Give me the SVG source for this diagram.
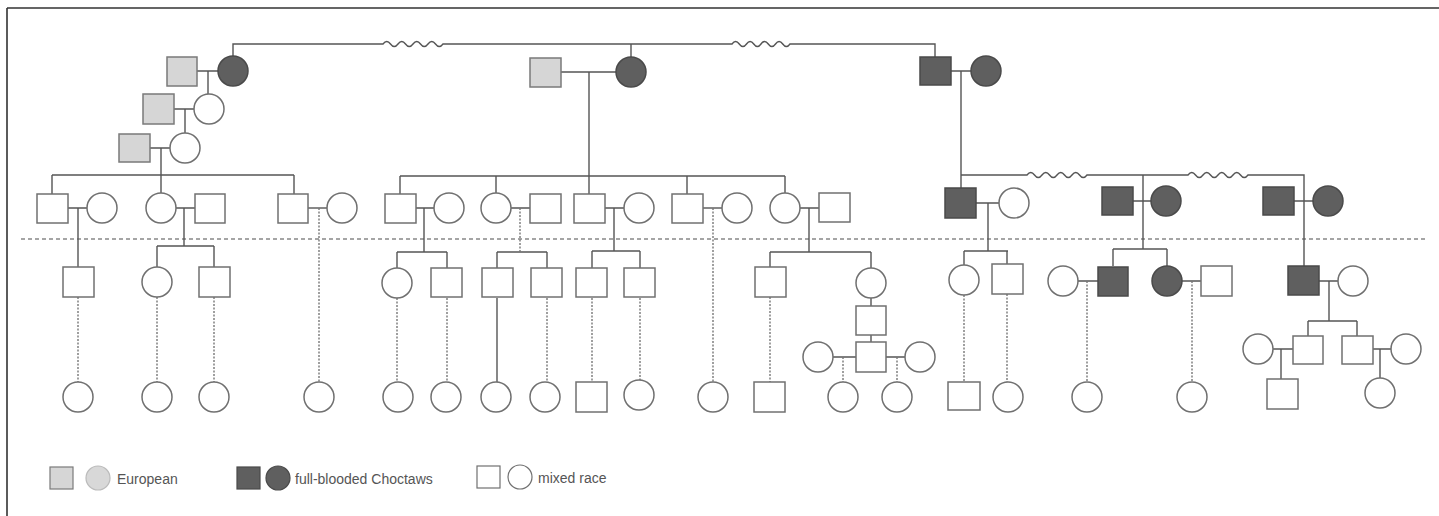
<svg xmlns="http://www.w3.org/2000/svg" width="1439" height="516" viewBox="0 0 1439 516">
<defs>
<style>
.m{fill:#fff;stroke:#707070;stroke-width:1.5}
.e{fill:#d6d6d6;stroke:#7a7a7a;stroke-width:1.5}
.c{fill:#5f5f5f;stroke:#4a4a4a;stroke-width:1.5}
.ln{fill:none;stroke:#555;stroke-width:1.4}
.dt{fill:none;stroke:#777;stroke-width:1.4;stroke-dasharray:2 1.5}
.sep{fill:none;stroke:#888;stroke-width:1.3;stroke-dasharray:4 3}
.lg{font-family:"Liberation Sans",Arial,sans-serif;font-size:14px;fill:#555}
</style>
</defs>
<rect x="0" y="0" width="1439" height="516" fill="#fff"/>
<path d="M7,8 H1439 M7,8 V516" fill="none" stroke="#333" stroke-width="1.6"/>
<path class="sep" d="M21,239 H1425"/>

<g id="connectors">
<!-- generation 1 -->
<path class="ln" d="M233,56 V44 H383 q3.75,-5 7.5,0 t7.5,0 t7.5,0 t7.5,0 t7.5,0 t7.5,0 t7.5,0 t7.5,0 H732 q3.6,-5 7.25,0 t7.25,0 t7.25,0 t7.25,0 t7.25,0 t7.25,0 t7.25,0 t7.25,0 H935 V57"/>
<path class="ln" d="M631,44 V57"/>
<path class="ln" d="M197,71 H218 M208,71 V94"/>
<path class="ln" d="M174,109 H194 M185,109 V133"/>
<path class="ln" d="M150,148 H170 M161,148 V175 M52,175 H294 M52,175 V194 M161,175 V193 M294,175 V194"/>
<path class="ln" d="M560,72 H616 M589,72 V176 M400,176 H785 M400,176 V194 M496,176 V193 M589,176 V194 M687,176 V194 M785,176 V193"/>
<path class="ln" d="M950,71 H971 M961,71 V188"/>
<path class="ln" d="M961,175 H1027 q3.75,-5 7.5,0 t7.5,0 t7.5,0 t7.5,0 t7.5,0 t7.5,0 t7.5,0 t7.5,0 H1188 q3.75,-5 7.5,0 t7.5,0 t7.5,0 t7.5,0 t7.5,0 t7.5,0 t7.5,0 t7.5,0 H1304 V266"/>
<path class="ln" d="M1143,175 V249 M1113,249 H1167 M1113,249 V266 M1167,249 V266"/>
<path class="ln" d="M1132,201 H1151 M1294,201 H1313"/>
<!-- generation 2 -->
<path class="ln" d="M67,208 H87 M78,208 V267"/>
<path class="ln" d="M176,208 H195 M184,208 V246 M157,246 H214 M157,246 V267 M214,246 V267"/>
<path class="ln" d="M308,208 H327"/>
<path class="dt" d="M319,208 V382"/>
<path class="ln" d="M415,208 H434 M424,208 V252 M397,252 H447 M397,252 V268 M447,252 V268"/>
<path class="ln" d="M511,208 H530 M497,252 H547 M497,252 V268 M547,252 V268"/>
<path class="dt" d="M520,208 V252"/>
<path class="ln" d="M604,208 H624 M614,208 V251 M592,251 H640 M592,251 V268 M640,251 V268"/>
<path class="ln" d="M702,208 H722"/>
<path class="dt" d="M713,208 V382"/>
<path class="ln" d="M800,208 H819 M809,208 V252 M770,252 H871 M770,252 V267 M871,252 V268"/>
<path class="ln" d="M975,203 H999 M988,203 V251 M964,251 H1008 M964,251 V265 M1007,251 V264"/>
<!-- generation 3 -->
<path class="dt" d="M78,297 V382 M157,297 V382 M214,297 V382"/>
<path class="dt" d="M397,298 V382 M447,298 V382 M547,298 V382 M592,298 V382 M640,298 V380"/>
<path class="ln" d="M497,298 V382"/>
<path class="dt" d="M770,297 V382"/>
<path class="ln" d="M871,298 V306 M871,335 V342"/>
<path class="ln" d="M833,357 H856 M886,357 H905"/>
<path class="dt" d="M843,357 V382 M897,357 V382"/>
<path class="dt" d="M964,295 V382 M1007,294 V382"/>
<path class="ln" d="M1078,281 H1098 M1182,281 H1201"/>
<path class="dt" d="M1087,281 V382 M1192,281 V382"/>
<path class="ln" d="M1318,281 H1338 M1329,281 V321 M1308,321 H1357 M1308,321 V336 M1357,321 V336"/>
<path class="ln" d="M1273,349 H1293 M1281,349 V379 M1372,349 H1391 M1380,349 V378"/>
</g>

<!-- generation 1 nodes -->
<g id="g1-m1"><rect class="e" x="167" y="57" width="30" height="29"/></g>
<g id="g1-f1"><circle class="c" cx="233" cy="71" r="15"/></g>
<g id="g1-m2"><rect class="e" x="143" y="94" width="31" height="30"/></g>
<g id="g1-f2"><circle class="m" cx="209" cy="109" r="15"/></g>
<g id="g1-m3"><rect class="e" x="119" y="134" width="31" height="28"/></g>
<g id="g1-f3"><circle class="m" cx="185" cy="148" r="15"/></g>
<g id="g1-m4"><rect class="e" x="530" y="58" width="31" height="29"/></g>
<g id="g1-f4"><circle class="c" cx="631" cy="72" r="15"/></g>
<g id="g1-m5"><rect class="c" x="920" y="57" width="31" height="28"/></g>
<g id="g1-f5"><circle class="c" cx="986" cy="71" r="15"/></g>

<!-- generation 2 nodes -->
<g id="g2-a"><rect class="m" x="37" y="194" width="31" height="29"/></g>
<g id="g2-b"><circle class="m" cx="102" cy="208" r="15"/></g>
<g id="g2-c"><circle class="m" cx="161" cy="208" r="15"/></g>
<g id="g2-d"><rect class="m" x="195" y="194" width="30" height="29"/></g>
<g id="g2-e"><rect class="m" x="278" y="194" width="30" height="29"/></g>
<g id="g2-f"><circle class="m" cx="342" cy="208" r="15"/></g>
<g id="g2-g"><rect class="m" x="385" y="194" width="31" height="29"/></g>
<g id="g2-h"><circle class="m" cx="449" cy="208" r="15"/></g>
<g id="g2-i"><circle class="m" cx="496" cy="208" r="15"/></g>
<g id="g2-j"><rect class="m" x="530" y="194" width="31" height="29"/></g>
<g id="g2-k"><rect class="m" x="574" y="194" width="31" height="29"/></g>
<g id="g2-l"><circle class="m" cx="639" cy="208" r="15"/></g>
<g id="g2-m"><rect class="m" x="672" y="194" width="31" height="29"/></g>
<g id="g2-n"><circle class="m" cx="737" cy="208" r="15"/></g>
<g id="g2-o"><circle class="m" cx="785" cy="208" r="15"/></g>
<g id="g2-p"><rect class="m" x="819" y="193" width="31" height="29"/></g>
<g id="g2-q"><rect class="c" x="945" y="188" width="31" height="30"/></g>
<g id="g2-r"><circle class="m" cx="1014" cy="203" r="15"/></g>
<g id="g2-s"><rect class="c" x="1102" y="187" width="31" height="28"/></g>
<g id="g2-t"><circle class="c" cx="1166" cy="201" r="15"/></g>
<g id="g2-u"><rect class="c" x="1263" y="187" width="31" height="28"/></g>
<g id="g2-v"><circle class="c" cx="1328" cy="201" r="15"/></g>

<!-- generation 3 nodes -->
<g id="g3-1"><rect class="m" x="63" y="267" width="31" height="30"/></g>
<g id="g3-2"><circle class="m" cx="157" cy="282" r="15"/></g>
<g id="g3-3"><rect class="m" x="199" y="267" width="31" height="30"/></g>
<g id="g3-4"><circle class="m" cx="397" cy="283" r="15"/></g>
<g id="g3-5"><rect class="m" x="431" y="268" width="31" height="29"/></g>
<g id="g3-6"><rect class="m" x="482" y="268" width="31" height="29"/></g>
<g id="g3-7"><rect class="m" x="531" y="268" width="31" height="29"/></g>
<g id="g3-8"><rect class="m" x="576" y="268" width="31" height="29"/></g>
<g id="g3-9"><rect class="m" x="624" y="268" width="31" height="29"/></g>
<g id="g3-10"><rect class="m" x="755" y="267" width="31" height="30"/></g>
<g id="g3-11"><circle class="m" cx="871" cy="283" r="15"/></g>
<g id="g3-12"><rect class="m" x="856" y="306" width="30" height="29"/></g>
<g id="g3-13"><rect class="m" x="856" y="342" width="30" height="30"/></g>
<g id="g3-14"><circle class="m" cx="818" cy="357" r="15"/></g>
<g id="g3-15"><circle class="m" cx="920" cy="357" r="15"/></g>
<g id="g3-16"><circle class="m" cx="964" cy="280" r="15"/></g>
<g id="g3-17"><rect class="m" x="992" y="264" width="31" height="30"/></g>
<g id="g3-18"><circle class="m" cx="1063" cy="281" r="15"/></g>
<g id="g3-19"><rect class="c" x="1098" y="267" width="30" height="29"/></g>
<g id="g3-20"><circle class="c" cx="1167" cy="281" r="15"/></g>
<g id="g3-21"><rect class="m" x="1201" y="266" width="31" height="30"/></g>
<g id="g3-22"><rect class="c" x="1288" y="266" width="31" height="29"/></g>
<g id="g3-23"><circle class="m" cx="1353" cy="281" r="15"/></g>
<g id="g3-24"><rect class="m" x="1293" y="336" width="30" height="28"/></g>
<g id="g3-25"><rect class="m" x="1342" y="336" width="31" height="28"/></g>
<g id="g3-26"><circle class="m" cx="1258" cy="349" r="15"/></g>
<g id="g3-27"><circle class="m" cx="1406" cy="349" r="15"/></g>

<!-- generation 4 nodes -->
<g id="g4-1"><circle class="m" cx="78" cy="397" r="15"/></g>
<g id="g4-2"><circle class="m" cx="157" cy="397" r="15"/></g>
<g id="g4-3"><circle class="m" cx="214" cy="397" r="15"/></g>
<g id="g4-4"><circle class="m" cx="319" cy="397" r="15"/></g>
<g id="g4-5"><circle class="m" cx="398" cy="397" r="15"/></g>
<g id="g4-6"><circle class="m" cx="446" cy="397" r="15"/></g>
<g id="g4-7"><circle class="m" cx="496" cy="397" r="15"/></g>
<g id="g4-8"><circle class="m" cx="545" cy="397" r="15"/></g>
<g id="g4-9"><rect class="m" x="576" y="382" width="31" height="30"/></g>
<g id="g4-10"><circle class="m" cx="639" cy="395" r="15"/></g>
<g id="g4-11"><circle class="m" cx="713" cy="397" r="15"/></g>
<g id="g4-12"><rect class="m" x="754" y="382" width="31" height="30"/></g>
<g id="g4-13"><circle class="m" cx="843" cy="397" r="15"/></g>
<g id="g4-14"><circle class="m" cx="897" cy="397" r="15"/></g>
<g id="g4-15"><rect class="m" x="948" y="382" width="32" height="28"/></g>
<g id="g4-16"><circle class="m" cx="1008" cy="397" r="15"/></g>
<g id="g4-17"><circle class="m" cx="1087" cy="397" r="15"/></g>
<g id="g4-18"><circle class="m" cx="1192" cy="397" r="15"/></g>
<g id="g4-19"><rect class="m" x="1267" y="379" width="31" height="30"/></g>
<g id="g4-20"><circle class="m" cx="1380" cy="393" r="15"/></g>

<!-- legend -->
<g id="legend-european">
<rect class="e" x="50" y="467" width="23" height="22" style="stroke-width:1.2"/>
<circle cx="98" cy="478" r="12" fill="#d8d8d8" stroke="#bbb" stroke-width="1.2"/>
<text class="lg" x="117" y="484">European</text>
</g>
<g id="legend-choctaw">
<rect class="c" x="237" y="467" width="23" height="22" style="stroke-width:1.2"/>
<circle class="c" cx="278" cy="478" r="12" style="stroke-width:1.2"/>
<text class="lg" x="295" y="484">full-blooded Choctaws</text>
</g>
<g id="legend-mixed">
<rect class="m" x="477" y="466" width="23" height="22" style="stroke-width:1.2"/>
<circle class="m" cx="520" cy="477" r="12" style="stroke-width:1.2"/>
<text class="lg" x="538" y="483">mixed race</text>
</g>
</svg>
